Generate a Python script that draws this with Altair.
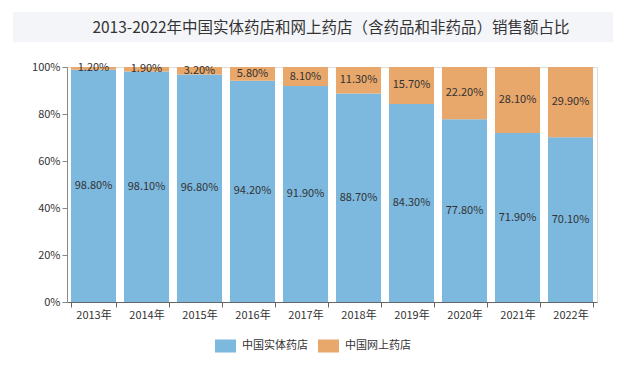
import altair as alt
import pandas as pd

title_text = "2013-2022年中国实体药店和网上药店（含药品和非药品）销售额占比"
years = ["2013年", "2014年", "2015年", "2016年", "2017年", "2018年", "2019年", "2020年", "2021年", "2022年"]
physical = [98.8, 98.1, 96.8, 94.2, 91.9, 88.7, 84.3, 77.8, 71.9, 70.1]
online = [1.2, 1.9, 3.2, 5.8, 8.1, 11.3, 15.7, 22.2, 28.1, 29.9]
series = ["中国实体药店", "中国网上药店"]
colors = ["#7db9df", "#e8a76b"]

rows = []
for i, y in enumerate(years):
    rows.append({"year": y, "series": series[0], "value": physical[i], "ord": 0})
    rows.append({"year": y, "series": series[1], "value": online[i], "ord": 1})
df = pd.DataFrame(rows)

FONT = "Noto Sans CJK SC"

base = alt.Chart(df).transform_stack(
    stack="value", groupby=["year"], as_=["y0", "y1"], sort=[alt.SortField("ord", order="ascending")]
).transform_calculate(
    mid="(datum.y0 + datum.y1) / 2",
    lbl="format(datum.value, '.2f') + '%'"
)

xenc = alt.X("year:N", sort=years, title=None,
             scale=alt.Scale(paddingInner=0.15, paddingOuter=0.075),
             axis=alt.Axis(labelAngle=0, tickBand="extent", labelFontSize=11, labelColor="#333",
                           labelFont=FONT, domainColor="#666", tickColor="#666", tickSize=5,
                           labelPadding=2, grid=False))

bars = base.mark_bar().encode(
    x=xenc,
    y=alt.Y("y0:Q", title=None, scale=alt.Scale(domain=[0, 100]),
            axis=alt.Axis(values=[0, 20, 40, 60, 80, 100], labelExpr="datum.value + '%'",
                          labelFontSize=11, labelColor="#333", labelFont=FONT,
                          domainColor="#888", tickColor="#888", tickSize=5, labelPadding=2, grid=False)),
    y2="y1:Q",
    color=alt.Color("series:N", scale=alt.Scale(domain=series, range=colors), title=None,
                    legend=alt.Legend(orient="none", legendX=148, legendY=268, direction="horizontal",
                                      symbolType="M-1,-0.62H1V0.62H-1Z", symbolSize=441,
                                      symbolStrokeWidth=0, labelFontSize=11, labelColor="#333",
                                      labelFont=FONT, labelOffset=6, columnPadding=10, padding=0)),
)

texts = base.mark_text(fontSize=11, color="#333", font=FONT, baseline="middle").encode(
    x=alt.X("year:N", sort=years),
    y=alt.Y("mid:Q"),
    text="lbl:N",
)

one = pd.DataFrame({"t": [title_text]})
bg = alt.Chart(one).mark_rect(color="#f4f5f8").encode(
    x=alt.value(-54), x2=alt.value(546), y=alt.value(-55), y2=alt.value(-25)
)
title = alt.Chart(one).mark_text(fontSize=15.5, font=FONT, color="#333", align="center",
                                 baseline="middle").encode(
    x=alt.value(264), y=alt.value(-39), text="t:N"
)

chart = alt.layer(bg, title, bars, texts).properties(
    width=530, height=235,
    autosize=alt.AutoSizeParams(type="none"),
    padding={"left": 59, "top": 59, "right": 35, "bottom": 65},
).configure_view(stroke=None).configure(background="white")

chart.save("out.html", embed_options={"renderer": "svg", "actions": False})
